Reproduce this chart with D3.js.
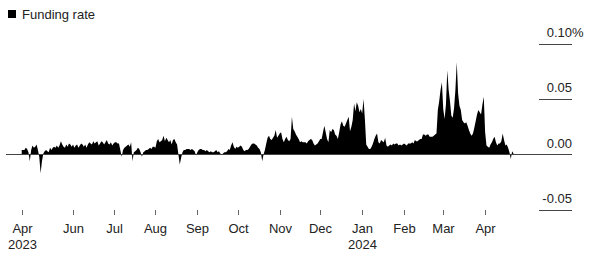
<!DOCTYPE html>
<html><head><meta charset="utf-8">
<script src="https://cdn.jsdelivr.net/npm/d3@7"></script>
<style>
body{margin:0;background:#fff}
svg{display:block}
text{font-family:"Liberation Sans",Arial,Helvetica,sans-serif;fill:#222}
</style>
</head><body>
<svg id="c" width="590" height="261"></svg>
<script>
const seriesName = "Funding rate";
const startDate = "2023-04-24";
// daily funding rate, %
const values = [
0.004,0.004,0.004,0.006,0.005,0.002,-0.006,0.004,0.008,0.006,
0.007,0.009,0.004,-0.002,-0.017,-0.006,0.001,0.003,0.004,0.003,
0.002,0.006,0.004,0.006,0.007,0.006,0.008,0.006,0.008,0.012,
0.009,0.007,0.006,0.009,0.007,0.010,0.009,0.007,0.009,0.006,
0.008,0.009,0.006,0.008,0.010,0.009,0.007,0.009,0.006,0.009,
0.011,0.010,0.009,0.012,0.010,0.011,0.012,0.008,0.010,0.012,
0.011,0.009,0.011,0.013,0.010,0.009,0.011,0.008,0.010,0.011,
0.011,0.010,0.010,
0.004,-0.002,0.004,0.006,0.007,0.008,0.009,0.007,0.011,-0.006,
0.002,0.003,0.004,0.006,0.005,0.002,-0.002,0.002,0.003,0.004,
0.004,0.005,0.006,0.005,0.007,0.007,0.006,0.012,0.014,0.011,
0.012,0.013,0.017,0.012,0.015,0.013,0.011,0.013,0.009,0.013,
0.014,0.011,0.009,0.000,-0.009,-0.003,0.002,0.004,0.004,0.005,
0.005,0.005,0.004,0.005,0.004,0.003,-0.001,0.002,0.004,0.005,
0.005,0.004,0.004,0.003,0.004,0.003,0.002,0.003,0.002,0.002,
0.003,0.004,0.002,0.003,
0.001,0.000,0.001,0.002,0.002,0.003,0.005,0.004,0.008,0.011,
0.007,0.005,0.007,0.006,0.007,0.008,0.007,0.004,0.003,0.004,
0.004,0.005,0.007,0.009,0.010,0.010,0.009,0.008,0.006,0.005,
0.002,-0.006,0.000,0.004,0.010,0.015,0.017,0.014,0.013,0.015,
0.017,0.022,0.015,0.017,0.019,0.020,0.014,0.011,0.014,0.016,
0.013,0.012,0.014,0.034,0.023,0.021,0.018,0.016,0.014,0.011,
0.012,0.011,0.011,0.011,0.010,0.012,0.013,0.014,0.013,0.010,
0.008,0.009,0.010,0.012,0.014,
0.014,0.020,0.026,0.020,0.014,0.011,0.022,0.020,0.023,0.022,
0.018,0.017,0.014,0.020,0.027,0.030,0.026,0.025,0.028,0.031,
0.034,0.021,0.025,0.031,0.046,0.039,0.047,0.044,0.038,0.041,
0.037,0.050,0.032,0.009,0.007,0.005,0.005,0.007,0.010,0.014,
0.017,0.019,0.011,0.010,0.013,0.012,0.011,0.015,0.008,0.007,
0.008,0.009,0.008,0.010,0.009,0.010,0.010,0.008,0.009,0.008,
0.009,0.010,0.009,0.008,0.010,0.010,0.010,0.011,0.010,0.013,
0.012,0.012,0.013,0.014,
0.014,0.018,0.018,0.017,0.018,0.018,0.016,0.016,0.016,0.017,
0.018,0.019,0.040,0.048,0.058,0.065,0.041,0.032,0.045,0.076,
0.058,0.048,0.035,0.033,0.042,0.058,0.083,0.055,0.044,0.040,
0.031,0.029,0.028,0.029,0.026,0.022,0.019,0.017,0.019,0.024,
0.030,0.036,0.040,0.038,0.036,0.045,0.052,0.020,0.008,0.007,
0.006,0.009,0.011,0.014,0.016,0.011,0.008,0.010,0.010,0.012,
0.019,0.013,0.008,0.009,0.006,0.002,-0.004,0.003,0.001
];
const yTicks = [0.10, 0.05, 0.00, -0.05];
const yTickLabels = ["0.10", "0.05", "0.00", "-0.05"];
const yUnit = "%";
const xTickDates = ["2023-04-24","2023-06-01","2023-07-01","2023-08-01","2023-09-01","2023-10-01",
                    "2023-11-01","2023-12-01","2024-01-01","2024-02-01","2024-03-01","2024-04-01"];
const xTickLabels = ["Apr","Jun","Jul","Aug","Sep","Oct","Nov","Dec","Jan","Feb","Mar","Apr"];
const xTickYears  = ["2023","","","","","","","","2024","","",""];

const parse = d3.utcParse("%Y-%m-%d");
const start = parse(startDate);
const data = values.map((v, i) => ({date: d3.utcDay.offset(start, i), value: v}));

const svg = d3.select("#c");
const x = d3.scaleUtc().domain([start, data[data.length - 1].date]).range([21.7, 513.5]);
const y = d3.scaleLinear().domain([-0.05, 0.10]).range([210, 43.5]);

// legend
svg.append("rect").attr("x", 8).attr("y", 10).attr("width", 8).attr("height", 8).attr("fill", "#000");
svg.append("text").attr("x", 22).attr("y", 18.5).attr("font-size", 13).text(seriesName);

// area
const area = d3.area().x(d => x(d.date)).y0(y(0)).y1(d => y(d.value));
svg.append("path").datum(data).attr("d", area).attr("fill", "#000");

// zero line
svg.append("line").attr("x1", 6).attr("x2", 572).attr("y1", y(0)).attr("y2", y(0))
  .attr("stroke", "#444").attr("stroke-width", 1);

// y ticks (right side)
const yg = svg.append("g");
yTicks.forEach((t, i) => {
  const yy = Math.round(y(t)) + 0.5;
  if (t !== 0) {
    yg.append("line").attr("x1", 539).attr("x2", 572).attr("y1", yy).attr("y2", yy)
      .attr("stroke", "#444").attr("stroke-width", 1);
  }
  yg.append("text").attr("x", 572).attr("y", yy - 7.5).attr("text-anchor", "end")
    .attr("font-size", 13).text(yTickLabels[i]);
  if (i === 0) {
    yg.append("text").attr("x", 572).attr("y", yy - 7.5).attr("font-size", 13).text(yUnit);
  }
});

// x ticks
const xg = svg.append("g");
xTickDates.forEach((ds, i) => {
  const xx = Math.round(x(parse(ds))) + 0.5;
  xg.append("line").attr("x1", xx).attr("x2", xx).attr("y1", 210).attr("y2", 215)
    .attr("stroke", "#666").attr("stroke-width", 1);
  xg.append("text").attr("x", xx).attr("y", 233).attr("text-anchor", "middle")
    .attr("font-size", 13).text(xTickLabels[i]);
  if (xTickYears[i]) {
    xg.append("text").attr("x", xx).attr("y", 249).attr("text-anchor", "middle")
      .attr("font-size", 13).text(xTickYears[i]);
  }
});
</script>
</body></html>
